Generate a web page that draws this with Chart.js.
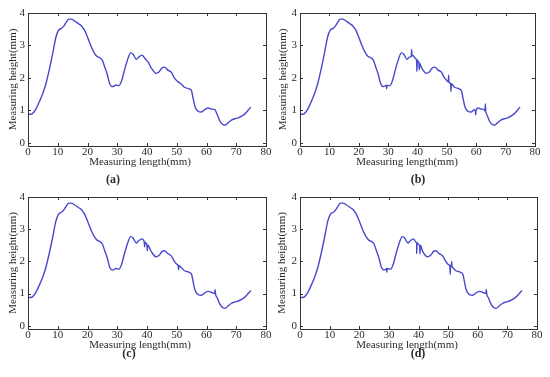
<!DOCTYPE html>
<html>
<head>
<meta charset="utf-8">
<script src="https://cdn.jsdelivr.net/npm/chart.js@4"></script>
<style>
  html, body { margin: 0; padding: 0; background: #fff; }
  #wrap { position: relative; width: 550px; height: 377px; overflow: hidden; }
  .panel { position: absolute; width: 275px; height: 190px; }
</style>
</head>
<body>
<div id="wrap">
  <div class="panel" style="left:0;top:0"><canvas id="ca" width="275" height="190"></canvas></div>
  <div class="panel" style="left:275px;top:0"><canvas id="cb" width="275" height="190"></canvas></div>
  <div class="panel" style="left:0;top:187px"><canvas id="cc" width="275" height="190"></canvas></div>
  <div class="panel" style="left:275px;top:187px"><canvas id="cd" width="275" height="190"></canvas></div>
</div>
<script>
var lengthMm = [0, 1, 2, 3, 3.7, 4.9, 6, 7.1, 8.3, 9.4, 10.3, 11.1, 11.9, 12.8, 13.7, 14.5, 15.6, 16.8, 17.9, 19,
  20.2, 21.3, 22.4, 23.2, 24.1, 25, 25.8, 26.6, 27.5, 28.4, 29.6, 30.6, 31.5, 32.4, 33.4, 34.5, 35.4, 36.4, 37.2, 38.3,
  39.4, 40.3, 41.4, 43.1, 44, 45.1, 45.9, 47, 48.1, 49.2, 50.3, 51.5, 52.6, 54.2, 55, 55.5, 56.1, 57.2, 58.3, 59.4,
  60.6, 61.7, 62.8, 63.6, 64.5, 65.4, 66.2, 67.3, 68.4, 69.6, 70.7, 71.8, 72.9, 74, 74.9];
var heightMm = [0.88, 0.88, 0.95, 1.1, 1.24, 1.5, 1.81, 2.23, 2.75, 3.26, 3.47, 3.52, 3.58, 3.71, 3.81, 3.81, 3.76, 3.68, 3.61, 3.47,
  3.21, 2.95, 2.75, 2.66, 2.62, 2.54, 2.33, 2.12, 1.81, 1.73, 1.78, 1.76, 1.92, 2.23, 2.54, 2.77, 2.72, 2.57, 2.64, 2.7,
  2.59, 2.5, 2.31, 2.14, 2.18, 2.31, 2.33, 2.24, 2.18, 2.0, 1.89, 1.81, 1.71, 1.66, 1.59, 1.37, 1.12, 0.97, 0.95, 1.02,
  1.07, 1.04, 1.02, 0.87, 0.67, 0.57, 0.54, 0.62, 0.7, 0.74, 0.77, 0.82, 0.89, 1.0, 1.1];

// narrow noise spikes seen in the other panels: [x, level beside, spike tip]
var spikesA = [];
var spikesB = [[29.5, 1.77, 1.66], [38, 2.67, 2.88], [39.8, 2.55, 2.2], [40.6, 2.45, 2.25], [50.6, 1.87, 2.08],
  [51.4, 1.82, 1.58], [59.8, 0.98, 0.86], [63.1, 0.98, 1.2]];
var spikesC = [[39.2, 2.6, 2.45], [40.1, 2.5, 2.33], [50.6, 1.87, 1.74], [62.9, 1.0, 1.13]];
var spikesD = [[29.3, 1.77, 1.66], [39.4, 2.58, 2.25], [40.5, 2.5, 2.23], [50.7, 1.87, 1.6], [51.2, 1.84, 2.0],
  [62.9, 1.0, 1.13]];

var xTicks = [0, 10, 20, 30, 40, 50, 60, 70, 80];
var yTicks = [0, 1, 2, 3, 4];

var FONT = "'Liberation Serif', 'DejaVu Serif', serif";
var LINE = "#4848cc";
var INK = "#2a2a2a";

function points(spikes) {
  var pts = lengthMm.map(function (x, i) { return { x: x, y: heightMm[i] }; });
  spikes.forEach(function (s) {
    pts.push({ x: s[0] - 0.12, y: s[1] }, { x: s[0], y: s[2] }, { x: s[0] + 0.12, y: s[1] });
  });
  pts.sort(function (a, b) { return a.x - b.x; });
  return pts;
}

var framePlugin = {
  id: "frame",
  afterDraw: function (chart) {
    var o = chart.options.plugins.frame;
    var ctx = chart.ctx, a = chart.chartArea;
    var xs = chart.scales.x, ys = chart.scales.y;
    ctx.save();
    ctx.strokeStyle = "#333";
    ctx.lineWidth = 1;
    ctx.strokeRect(Math.round(a.left) + 0.5, Math.round(a.top) + 0.5,
      Math.round(a.right - a.left), Math.round(a.bottom - a.top));
    ctx.beginPath();
    xTicks.forEach(function (v) {
      var px = Math.round(xs.getPixelForValue(v)) + 0.5;
      ctx.moveTo(px, a.bottom); ctx.lineTo(px, a.bottom - 3);
      ctx.moveTo(px, a.top); ctx.lineTo(px, a.top + 3);
    });
    yTicks.forEach(function (v) {
      var py = Math.round(ys.getPixelForValue(v)) + 0.5;
      ctx.moveTo(a.left, py); ctx.lineTo(a.left + 3, py);
      ctx.moveTo(a.right, py); ctx.lineTo(a.right - 3, py);
    });
    ctx.stroke();
    ctx.fillStyle = INK;
    ctx.textAlign = "center";
    ctx.textBaseline = "middle";
    ctx.font = "11px " + FONT;
    ctx.fillText("Measuring length(mm)", o.titleX, o.titleY);
    ctx.font = "bold 12px " + FONT;
    ctx.fillText(o.label, o.labelX, o.labelY);
    ctx.restore();
  }
};

function makeChart(id, spikes, box, yTitlePad, frame) {
  var W = 275, H = 190;
  return new Chart(document.getElementById(id), {
    type: "line",
    data: {
      datasets: [{
        data: points(spikes),
        borderColor: LINE,
        borderWidth: 1.4,
        pointRadius: 0,
        cubicInterpolationMode: "monotone",
        fill: false
      }]
    },
    options: {
      responsive: false,
      animation: false,
      events: [],
      layout: { padding: { left: 0, top: box.top, right: W - box.right, bottom: 0 } },
      scales: {
        x: {
          type: "linear",
          min: 0,
          max: 80,
          afterBuildTicks: function (s) { s.ticks = xTicks.map(function (v) { return { value: v }; }); },
          afterFit: function (s) { s.height = H - box.bottom; },
          grid: { display: false, drawTicks: false },
          border: { display: false },
          ticks: { padding: 0, maxRotation: 0, color: INK, font: { family: FONT, size: 11 } }
        },
        y: {
          type: "linear",
          min: -0.1,
          max: 4,
          afterBuildTicks: function (s) { s.ticks = yTicks.map(function (v) { return { value: v }; }); },
          afterFit: function (s) { s.width = box.left; },
          grid: { display: false, drawTicks: false },
          border: { display: false },
          ticks: { padding: 3, color: INK, font: { family: FONT, size: 11 } },
          title: {
            display: true,
            text: "Measuring height(mm)",
            color: INK,
            font: { family: FONT, size: 11, lineHeight: 1.2 },
            padding: { top: yTitlePad, bottom: 0 }
          }
        }
      },
      plugins: {
        legend: { display: false },
        tooltip: { enabled: false },
        frame: frame
      }
    },
    plugins: [framePlugin]
  });
}

makeChart("ca", spikesA, { left: 28, top: 13, right: 266, bottom: 146 }, 6.4,
  { titleX: 140, titleY: 162, label: "(a)", labelX: 113, labelY: 180 });
makeChart("cb", spikesB, { left: 25, top: 13, right: 260, bottom: 146 }, 1.4,
  { titleX: 132, titleY: 162, label: "(b)", labelX: 143, labelY: 180 });
makeChart("cc", spikesC, { left: 28, top: 10, right: 266, bottom: 142 }, 6.4,
  { titleX: 140, titleY: 158, label: "(c)", labelX: 129, labelY: 167 });
makeChart("cd", spikesD, { left: 25, top: 10, right: 262, bottom: 142 }, 0.4,
  { titleX: 132, titleY: 158, label: "(d)", labelX: 143, labelY: 167 });
</script>
</body>
</html>
